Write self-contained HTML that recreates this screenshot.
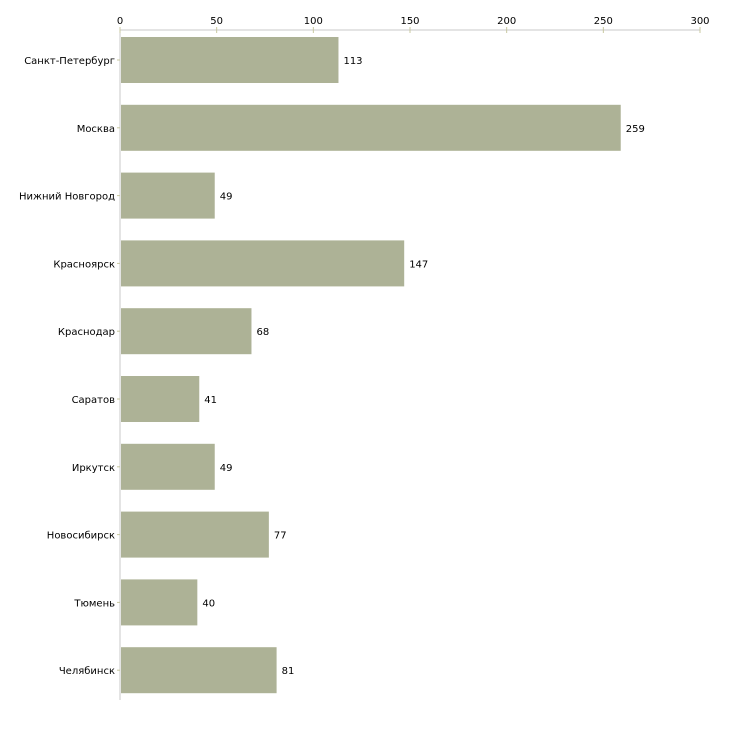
<!DOCTYPE html>
<html><head><meta charset="utf-8"><style>
body{margin:0;background:#fff;}
svg text{font-family:"DejaVu Sans","Liberation Sans",sans-serif;font-size:10px;fill:#000;}
</style></head><body>
<svg id="chart" width="730" height="730" xmlns="http://www.w3.org/2000/svg"></svg>
<script>
const categories=["Санкт-Петербург","Москва","Нижний Новгород","Красноярск","Краснодар","Саратов","Иркутск","Новосибирск","Тюмень","Челябинск"];
const values=[113,259,49,147,68,41,49,77,40,81];
const ticks=[0,50,100,150,200,250,300];
const svg=document.getElementById('chart');
const NS='http://www.w3.org/2000/svg';
const x0=120,x1=700,vmax=300,axisTop=30,band=67.8,barH=46,firstBar=37;
const xs=v=>x0+(x1-x0)*v/vmax;
function mk(tag,attrs){const e=document.createElementNS(NS,tag);for(const k in attrs)e.setAttribute(k,attrs[k]);svg.appendChild(e);return e;}
let a=mk('line',{x1:x0,y1:axisTop,x2:x1,y2:axisTop,stroke:'#c8c8c8'});


let b=mk('line',{x1:x0,y1:axisTop,x2:x0,y2:700,stroke:'#c8c8c8'});


ticks.forEach(t=>{
 const tl=mk('line',{x1:xs(t),y1:27,x2:xs(t),y2:33,stroke:'#c8c8a0'});
 
 
 const tx=mk('text',{x:xs(t),y:24,'text-anchor':'middle'});tx.textContent=t;
 
 
});
categories.forEach((c,i)=>{
 const y=firstBar+i*band;
 const r=mk('rect',{x:x0+1,y:y,width:xs(values[i])-x0-1,height:barH,fill:'#adb296'});
 
 
 const ct=mk('line',{x1:117,y1:y+barH/2,x2:120,y2:y+barH/2,stroke:'#c8c8a0'});
 
 
 const lb=mk('text',{x:115,y:y+barH/2+4,'text-anchor':'end'});lb.textContent=c;
 
 
 const vl=mk('text',{x:xs(values[i])+5,y:y+barH/2+4});vl.textContent=values[i];
 
 
});
</script>
</body></html>
